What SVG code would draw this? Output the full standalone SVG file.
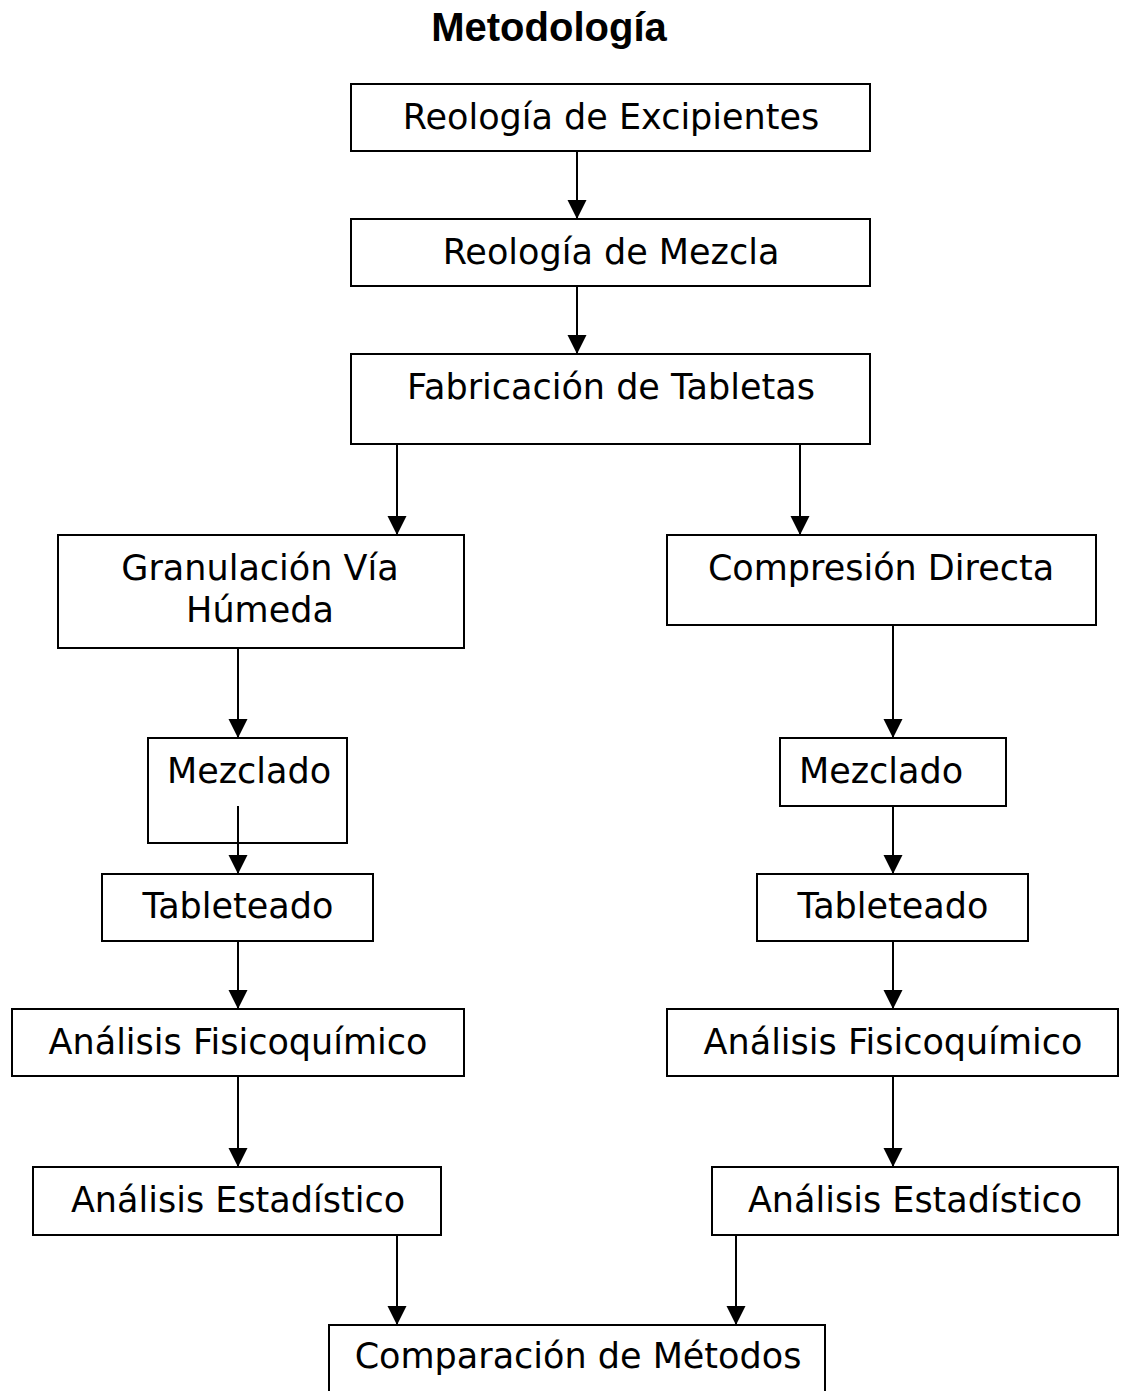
<svg xmlns="http://www.w3.org/2000/svg" width="1121" height="1391" viewBox="0 0 1121 1391">
<style>
.box{fill:#fff;stroke:#000;stroke-width:2}
.t{font-family:"DejaVu Sans",Verdana,sans-serif;font-size:35px;fill:#000}
.title{font-family:"Liberation Sans",Arial,sans-serif;font-weight:bold;font-size:40px;fill:#000}
.c line{stroke:#000;stroke-width:2}
</style>
<defs>
<marker id="arr" markerUnits="userSpaceOnUse" markerWidth="20" markerHeight="20" viewBox="0 0 20 20" refX="19" refY="10" orient="auto">
<path d="M0,0.5 L19,10 L0,19.5 Z" fill="#000"/>
</marker>
</defs>
<rect width="1121" height="1391" fill="#fff"/>
<text class="title" x="549" y="41" text-anchor="middle">Metodología</text>

<g id="n1"><rect class="box" x="351" y="84" width="519" height="67"/><text class="t" x="611" y="129" text-anchor="middle">Reología de Excipientes</text></g>
<g id="n2"><rect class="box" x="351" y="219" width="519" height="67"/><text class="t" x="611" y="264" text-anchor="middle">Reología de Mezcla</text></g>
<g id="n3"><rect class="box" x="351" y="354" width="519" height="90"/><text class="t" x="611" y="399" text-anchor="middle">Fabricación de Tabletas</text></g>
<g id="n4"><rect class="box" x="58" y="535" width="406" height="113"/><text class="t" x="260" y="580" text-anchor="middle">Granulación Vía</text><text class="t" x="260" y="622" text-anchor="middle">Húmeda</text></g>
<g id="n5"><rect class="box" x="667" y="535" width="429" height="90"/><text class="t" x="881" y="580" text-anchor="middle">Compresión Directa</text></g>
<g id="n6"><rect class="box" x="148" y="738" width="199" height="105"/><text class="t" x="167" y="783">Mezclado</text></g>
<g id="n7"><rect class="box" x="780" y="738" width="226" height="68"/><text class="t" x="799" y="783">Mezclado</text></g>
<g id="n8"><rect class="box" x="102" y="874" width="271" height="67"/><text class="t" x="238" y="918" text-anchor="middle">Tableteado</text></g>
<g id="n9"><rect class="box" x="757" y="874" width="271" height="67"/><text class="t" x="893" y="918" text-anchor="middle">Tableteado</text></g>
<g id="n10"><rect class="box" x="12" y="1009" width="452" height="67"/><text class="t" x="238" y="1054" text-anchor="middle">Análisis Fisicoquímico</text></g>
<g id="n11"><rect class="box" x="667" y="1009" width="451" height="67"/><text class="t" x="893" y="1054" text-anchor="middle">Análisis Fisicoquímico</text></g>
<g id="n12"><rect class="box" x="33" y="1167" width="408" height="68"/><text class="t" x="238" y="1212" text-anchor="middle">Análisis Estadístico</text></g>
<g id="n13"><rect class="box" x="712" y="1167" width="406" height="68"/><text class="t" x="915" y="1212" text-anchor="middle">Análisis Estadístico</text></g>
<g id="n14"><rect class="box" x="329" y="1325" width="496" height="80"/><text class="t" x="578" y="1368" text-anchor="middle">Comparación de Métodos</text></g>

<g id="connectors" class="c">
<line x1="577" y1="151" x2="577" y2="219" marker-end="url(#arr)"/>
<line x1="577" y1="286" x2="577" y2="354" marker-end="url(#arr)"/>
<line x1="397" y1="444" x2="397" y2="535" marker-end="url(#arr)"/>
<line x1="800" y1="444" x2="800" y2="535" marker-end="url(#arr)"/>
<line x1="238" y1="648" x2="238" y2="738" marker-end="url(#arr)"/>
<line x1="238" y1="806" x2="238" y2="874" marker-end="url(#arr)"/>
<line x1="238" y1="941" x2="238" y2="1009" marker-end="url(#arr)"/>
<line x1="238" y1="1076" x2="238" y2="1167" marker-end="url(#arr)"/>
<line x1="397" y1="1235" x2="397" y2="1325" marker-end="url(#arr)"/>
<line x1="893" y1="625" x2="893" y2="738" marker-end="url(#arr)"/>
<line x1="893" y1="806" x2="893" y2="874" marker-end="url(#arr)"/>
<line x1="893" y1="941" x2="893" y2="1009" marker-end="url(#arr)"/>
<line x1="893" y1="1076" x2="893" y2="1167" marker-end="url(#arr)"/>
<line x1="736" y1="1235" x2="736" y2="1325" marker-end="url(#arr)"/>
</g>
</svg>
